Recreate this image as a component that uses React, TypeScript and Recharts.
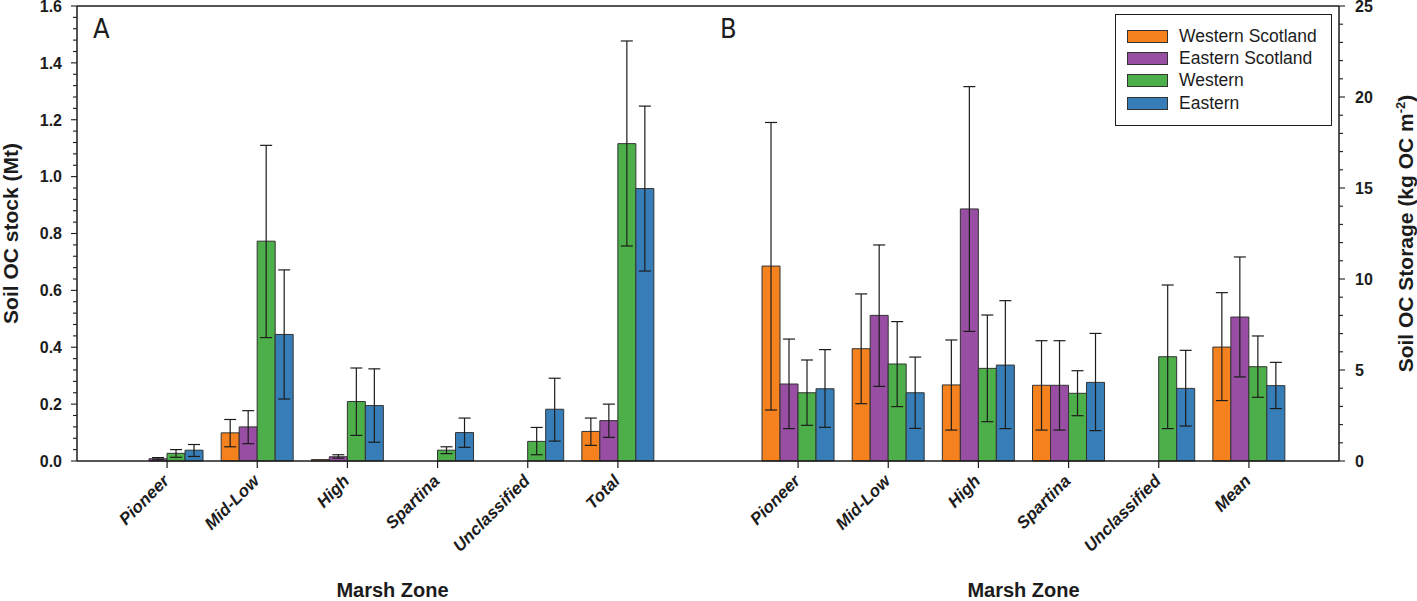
import { BarChart, Bar, XAxis, YAxis, ErrorBar, ReferenceLine, Legend } from 'recharts';

// values (A: stock in Mt, B: storage in kg OC m-2)
const zonesA = ['Pioneer', 'Mid-Low', 'High', 'Spartina', 'Unclassified', 'Total'];
const zonesB = ['Pioneer', 'Mid-Low', 'High', 'Spartina', 'Unclassified', 'Mean'];

const seriesKeys = ['ws', 'es', 'w', 'e'];
const seriesNames = ['Western Scotland', 'Eastern Scotland', 'Western', 'Eastern'];
const seriesColors = ['#f5821f', '#984ea3', '#4daf4a', '#377eb8'];

const stockWS = [null, 0.099, 0.005, null, null, 0.104];
const stockWSLow = [null, 0.05, null, null, null, 0.055];
const stockWSHigh = [null, 0.146, null, null, null, 0.151];
const stockES = [0.008, 0.12, 0.015, null, null, 0.142];
const stockESLow = [0.004, 0.061, 0.01, null, null, 0.083];
const stockESHigh = [0.012, 0.177, 0.022, null, null, 0.2];
const stockW = [0.027, 0.773, 0.209, 0.038, 0.069, 1.116];
const stockWLow = [0.013, 0.434, 0.09, 0.026, 0.022, 0.756];
const stockWHigh = [0.04, 1.11, 0.327, 0.05, 0.118, 1.477];
const stockE = [0.038, 0.445, 0.195, 0.1, 0.182, 0.958];
const stockELow = [0.016, 0.218, 0.066, 0.048, 0.07, 0.668];
const stockEHigh = [0.058, 0.672, 0.324, 0.151, 0.291, 1.248];

const storWS = [10.71, 6.17, 4.18, 4.16, null, 6.26];
const storWSLow = [2.8, 3.15, 1.7, 1.7, null, 3.32];
const storWSHigh = [18.6, 9.18, 6.65, 6.61, null, 9.25];
const storES = [4.23, 8.0, 13.85, 4.16, null, 7.91];
const storESLow = [1.78, 4.1, 7.12, 1.7, null, 4.62];
const storESHigh = [6.7, 11.87, 20.57, 6.61, null, 11.21];
const storW = [3.75, 5.33, 5.09, 3.72, 5.73, 5.18];
const storWLow = [1.96, 2.99, 2.16, 2.49, 1.78, 3.5];
const storWHigh = [5.55, 7.66, 8.02, 4.96, 9.67, 6.87];
const storE = [3.97, 3.75, 5.27, 4.32, 3.99, 4.14];
const storELow = [1.85, 1.79, 1.78, 1.67, 1.92, 2.88];
const storEHigh = [6.12, 5.71, 8.81, 7.01, 6.08, 5.42];

const stockMajorTicks = [0, 0.2, 0.4, 0.6, 0.8, 1.0, 1.2, 1.4, 1.6];
const storageMajorTicks = [0, 5, 10, 15, 20, 25];

// minor ticks: 4 between each pair of labelled ticks
const stockTicks: number[] = [];
for (let k = 0; k <= 40; k++) stockTicks.push(Math.round(k * 4) / 100);
const storageTicks: number[] = [];
for (let k = 0; k <= 25; k++) storageTicks.push(k);

const INK = '#1c1c1c';
const FONT = '"Liberation Sans", Arial, Helvetica, sans-serif';
const LETTER_FONT = '"Liberation Sans Narrow", "DejaVu Sans Condensed", "Liberation Sans", sans-serif';

function buildRows(zones: string[], vals: any[][], lows: any[][], highs: any[][]) {
  return zones.map((zone, i) => {
    const row: any = { zone };
    seriesKeys.forEach((k, s) => {
      const v = vals[s][i];
      const lo = lows[s][i];
      const hi = highs[s][i];
      row[k] = v;
      row[k + 'Err'] = v != null && lo != null && hi != null ? [v - lo, hi - v] : undefined;
    });
    return row;
  });
}

const stockRows = buildRows(
  zonesA,
  [stockWS, stockES, stockW, stockE],
  [stockWSLow, stockESLow, stockWLow, stockELow],
  [stockWSHigh, stockESHigh, stockWHigh, stockEHigh]
);
const storageRows = buildRows(
  zonesB,
  [storWS, storES, storW, storE],
  [storWSLow, storESLow, storWLow, storELow],
  [storWSHigh, storESHigh, storWHigh, storEHigh]
);

const StockTick = (props: any) => {
  const { x, y, payload } = props;
  const v = payload.value;
  const major = stockMajorTicks.some((t) => Math.abs(t - v) < 1e-6);
  return (
    <g>
      <line x1={x - (major ? 6 : 4)} x2={x} y1={y} y2={y} stroke={INK} strokeWidth={1.1} />
      {major && (
        <text x={x - 15} y={y} dy="0.36em" textAnchor="end" fontFamily={FONT} fontWeight="bold" fontSize={16} fill={INK}>
          {v.toFixed(1)}
        </text>
      )}
    </g>
  );
};

const StorageTick = (props: any) => {
  const { x, y, payload } = props;
  const v = payload.value;
  const major = storageMajorTicks.includes(v);
  return (
    <g>
      <line x1={x} x2={x + (major ? 6 : 4)} y1={y} y2={y} stroke={INK} strokeWidth={1.1} />
      {major && (
        <text x={x + 16} y={y} dy="0.36em" textAnchor="start" fontFamily={FONT} fontWeight="bold" fontSize={16} fill={INK}>
          {v}
        </text>
      )}
    </g>
  );
};

const ZoneTick = (props: any) => {
  const { x, y, payload } = props;
  const ax = x + 3;
  const ay = y + 21;
  return (
    <g>
      <line x1={x} x2={x} y1={y} y2={y + 7} stroke={INK} strokeWidth={1.2} />
      <text
        x={ax}
        y={ay}
        textAnchor="end"
        transform={`rotate(-45, ${ax}, ${ay})`}
        fontFamily={FONT}
        fontWeight="bold"
        fontStyle="italic"
        fontSize={17}
        fill={INK}
      >
        {payload.value}
      </text>
    </g>
  );
};

const zoneTitle = (props: any) => {
  const vb = props.viewBox;
  return (
    <text x={vb.x + vb.width / 2} y={vb.y + 136} textAnchor="middle" fontFamily={FONT} fontWeight="bold" fontSize={20} fill={INK}>
      Marsh Zone
    </text>
  );
};

const stockTitle = (props: any) => {
  const vb = props.viewBox;
  const cx = 18;
  const cy = vb.y + vb.height / 2;
  return (
    <text x={cx} y={cy} transform={`rotate(-90, ${cx}, ${cy})`} textAnchor="middle" fontFamily={FONT} fontWeight="bold" fontSize={21} fill={INK}>
      Soil OC stock (Mt)
    </text>
  );
};

const storageTitle = (props: any) => {
  const vb = props.viewBox;
  const cx = vb.x + 74;
  const cy = vb.y + vb.height / 2;
  return (
    <text x={cx} y={cy} transform={`rotate(-90, ${cx}, ${cy})`} textAnchor="middle" fontFamily={FONT} fontWeight="bold" fontSize={21} fill={INK}>
      Soil OC Storage (kg OC m
      <tspan dy={-8} fontSize={13}>-2</tspan>
      <tspan dy={8}>)</tspan>
    </text>
  );
};

const panelLetter = (letter: string, dx: number) => (props: any) => {
  const vb = props.viewBox;
  return (
    <text x={vb.x + dx} y={vb.y + 32} fontFamily={LETTER_FONT} fontSize={27} fill={INK}>
      {letter}
    </text>
  );
};

const LegendBox = (props: any) => {
  const items = [...(props.payload || [])].sort(
    (a: any, b: any) => seriesNames.indexOf(a.value) - seriesNames.indexOf(b.value)
  );
  return (
    <div
      style={{
        width: 217,
        height: 112,
        boxSizing: 'border-box',
        border: `1.5px solid ${INK}`,
        background: '#fff',
        paddingTop: 10,
        fontFamily: FONT,
        fontSize: 17.5,
        color: INK,
      }}
    >
      {items.map((it: any) => (
        <div key={it.value} style={{ display: 'flex', alignItems: 'center', height: 22.3 }}>
          <div
            style={{
              marginLeft: 11,
              width: 41,
              height: 13,
              boxSizing: 'border-box',
              background: it.color,
              border: '1px solid #333',
            }}
          />
          <span style={{ marginLeft: 11, whiteSpace: 'nowrap' }}>{it.value}</span>
        </div>
      ))}
    </div>
  );
};

function renderBars() {
  return seriesKeys.map((k, s) => (
    <Bar key={k} dataKey={k} name={seriesNames[s]} fill={seriesColors[s]} stroke="#333" strokeWidth={1} isAnimationActive={false}>
      <ErrorBar dataKey={k + 'Err'} width={6} stroke={INK} strokeWidth={1.2} isAnimationActive={false} />
    </Bar>
  ));
}

export default function App() {
  return (
    <div style={{ position: 'absolute', left: 0, top: 0, width: 1417, height: 601, background: '#fff' }}>
      <div style={{ position: 'absolute', left: 0, top: 0 }}>
        <BarChart
          width={720}
          height={601}
          data={stockRows}
          margin={{ top: 6, right: 12, bottom: 0, left: 0 }}
          barCategoryGap="10%"
          barGap={0}
        >
          <XAxis
            dataKey="zone"
            height={140}
            padding={{ left: 45, right: 45 }}
            tickLine={false}
            tickSize={0}
            tickMargin={0}
            interval={0}
            tick={<ZoneTick />}
            axisLine={{ stroke: INK, strokeWidth: 1.5 }}
            label={{ content: zoneTitle }}
          />
          <YAxis
            width={77}
            domain={[0, 1.6]}
            ticks={stockTicks}
            interval={0}
            tickLine={false}
            tickSize={0}
            tickMargin={0}
            tick={<StockTick />}
            axisLine={{ stroke: INK, strokeWidth: 1.5 }}
            label={{ content: stockTitle }}
          />
          <YAxis yAxisId="frame" orientation="right" width={0} tick={false} tickLine={false} axisLine={{ stroke: INK, strokeWidth: 1.5 }} />
          <ReferenceLine y={1.6} stroke={INK} strokeWidth={1.5} label={{ content: panelLetter('A', 16) }} />
          {renderBars()}
        </BarChart>
      </div>
      <div style={{ position: 'absolute', left: 700, top: 0 }}>
        <BarChart
          width={717}
          height={601}
          data={storageRows}
          margin={{ top: 6, right: 0, bottom: 0, left: 8 }}
          barCategoryGap="10%"
          barGap={0}
        >
          <XAxis
            dataKey="zone"
            height={140}
            padding={{ left: 45, right: 45 }}
            tickLine={false}
            tickSize={0}
            tickMargin={0}
            interval={0}
            tick={<ZoneTick />}
            axisLine={{ stroke: INK, strokeWidth: 1.5 }}
            label={{ content: zoneTitle }}
          />
          <YAxis
            orientation="right"
            width={78}
            domain={[0, 25]}
            ticks={storageTicks}
            interval={0}
            tickLine={false}
            tickSize={0}
            tickMargin={0}
            tick={<StorageTick />}
            axisLine={{ stroke: INK, strokeWidth: 1.5 }}
            label={{ content: storageTitle }}
          />
          <ReferenceLine y={25} stroke={INK} strokeWidth={1.5} label={{ content: panelLetter('B', 12) }} />
          <Legend
            layout="vertical"
            align="center"
            verticalAlign="middle"
            content={<LegendBox />}
            wrapperStyle={{ left: 415, top: 14, width: 217, height: 112 }}
          />
          {renderBars()}
        </BarChart>
      </div>
    </div>
  );
}
